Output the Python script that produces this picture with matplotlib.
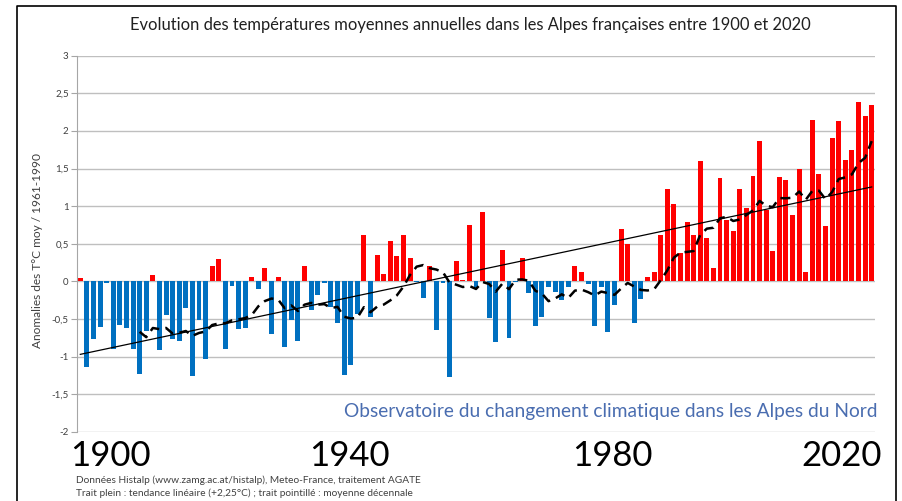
import numpy as np
import pandas as pd
from matplotlib import pyplot as plt
from matplotlib.lines import Line2D

# anomalies annuelles (°C, ref 1961-1990)
years = list(range(1900, 2021))
anomalies = [
    0.05, -1.14, -0.77, -0.61, -0.02, -0.90, -0.58, -0.62, -0.90, -1.23,   # 1900
    -0.66, 0.08, -0.92, -0.45, -0.77, -0.79, -0.35, -1.26, -0.52, -1.03,   # 1910
    0.20, 0.29, -0.90, -0.06, -0.64, -0.62, 0.06, -0.10, 0.18, -0.70,      # 1920
    0.06, -0.87, -0.52, -0.80, 0.20, -0.38, -0.18, -0.02, -0.34, -0.55,    # 1930
    -1.25, -1.11, -0.43, 0.62, -0.47, 0.35, 0.10, 0.54, 0.33, 0.61,        # 1940
    0.31, -0.01, -0.22, 0.20, -0.65, -0.02, -1.27, 0.27, 0.02, 0.75,       # 1950
    -0.09, 0.92, -0.49, -0.81, 0.41, -0.76, -0.01, 0.31, -0.15, -0.59,     # 1960
    -0.47, -0.08, -0.14, -0.25, -0.07, 0.21, 0.13, -0.03, -0.59, -0.08,    # 1970
    -0.67, -0.31, 0.70, 0.49, -0.55, -0.24, 0.06, 0.12, 0.61, 1.23,        # 1980
    1.03, 0.37, 0.79, 0.61, 1.60, 0.58, 0.18, 1.38, 0.81, 0.67,            # 1990
    1.23, 0.97, 1.40, 1.87, 0.95, 0.40, 1.39, 1.35, 0.88, 1.50,            # 2000
    0.13, 2.15, 1.43, 0.73, 1.91, 2.13, 1.61, 1.75, 2.38, 2.20,            # 2010
    2.35,                                                                   # 2020
]
yticks = [-2, -1.5, -1, -0.5, 0, 0.5, 1, 1.5, 2, 2.5, 3]
big_years = ["1900", "1940", "1980", "2020"]

df = pd.DataFrame({"year": years, "anom": anomalies})
df["decade_mean"] = df["anom"].rolling(10).mean()
coef = np.polyfit(df["year"], df["anom"], 1)
df["trend"] = np.polyval(coef, df["year"])

plt.rcParams['font.family'] = ['Lato', 'DejaVu Sans']

fig = plt.figure(figsize=(9.03, 5.01), dpi=100)
ax = fig.add_axes([77/903, 1 - 431.7/501, 798/903, 376/501])

colors = ['#FF0000' if v >= 0 else '#0070C0' for v in df["anom"]]
ax.bar(df["year"], df["anom"], width=0.75, color=colors, zorder=2)
ax.plot(df["year"], df["trend"], color='black', lw=0.9, zorder=3)
ax.plot(df["year"], df["decade_mean"], color='black', lw=1.8,
        dashes=(4, 2.5), zorder=3)

ax.set_xlim(1899.5, 2020.5)
ax.set_ylim(-2, 3)
ax.set_yticks(yticks)
ax.set_yticklabels([f"{t:g}".replace('.', ',') for t in yticks],
                   fontsize=7, color='#404040')
ax.set_xticks([])
ax.grid(axis='y', color='#BFBFBF', lw=1)
ax.set_axisbelow(True)
for s in ['top', 'right', 'bottom']:
    ax.spines[s].set_visible(False)
ax.spines['left'].set_color('#A6A6A6')
ax.tick_params(axis='y', length=4, color='#A6A6A6', pad=2)
ax.set_ylabel("Anomalies des T°C moy / 1961-1990", fontsize=8.6,
              color='#404040')
ax.yaxis.set_label_coords(38/903, 0.5, transform=fig.transFigure)
ax.yaxis.label.set_va('center')

fig.text(0.521, 0.95, "Evolution des températures moyennes annuelles dans les Alpes françaises entre 1900 et 2020",
         ha='center', va='center', fontsize=11.9, color='#202020')

fig.text(878/903, 1 - 411/501, "Observatoire du changement climatique dans les Alpes du Nord",
         ha='right', va='center', fontsize=13.8, color='#4A6DB0')

for lab, xc in zip(big_years, [110, 349, 612, 842]):
    fig.text(xc/903, 1 - 456/501, lab, ha='center', va='center', fontsize=25, color='black')

fig.text(76/903, 1 - 480/501, "Données Histalp (www.zamg.ac.at/histalp), Meteo-France, traitement AGATE",
         ha='left', va='center', fontsize=7.3, color='#404040')
fig.text(76/903, 1 - 493/501, "Trait plein : tendance linéaire (+2,25°C) ; trait pointillé : moyenne décennale",
         ha='left', va='center', fontsize=7.3, color='#404040')

# cadre
fig.add_artist(Line2D([17/903, 17/903, 896/903, 896/903], [0, 1 - 6/501, 1 - 6/501, 0],
                      transform=fig.transFigure, color='black', lw=1.2))

fig.savefig("out.png", dpi=100)
